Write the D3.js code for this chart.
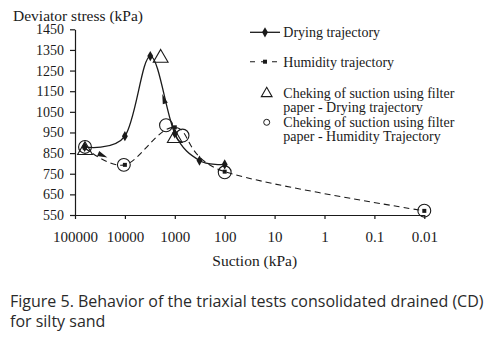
<!DOCTYPE html>
<html><head><meta charset="utf-8">
<script src="https://cdn.jsdelivr.net/npm/d3@7"></script>
<style>body{margin:0;background:#fff}svg{display:block}</style>
</head><body><svg id="c" width="504" height="340"></svg>
<script>
const xTickValues = [100000, 10000, 1000, 100, 10, 1, 0.1, 0.01];
const xTickLabels = ["100000", "10000", "1000", "100", "10", "1", "0.1", "0.01"];
const yTickValues = [550, 650, 750, 850, 950, 1050, 1150, 1250, 1350, 1450];

const dryingSuction = [64000, 10000, 3100, 1000, 320, 100];
const dryingStress  = [880, 932, 1320, 945, 814, 795];

const humiditySuction = [64000, 10000, 1000, 100, 0.01];
const humidityStress  = [876, 793, 975, 760, 570];

const checkDryingSuction = [63000, 1920, 1000];
const checkDryingStress  = [864, 1311, 922];

const checkHumiditySuction = [63000, 10500, 1500, 700, 100, 0.01];
const checkHumidityStress  = [880, 793, 985, 935, 757, 571];

const legendLabels = [
  ["Drying trajectory"],
  ["Humidity trajectory"],
  ["Cheking of suction using filter", "paper - Drying trajectory"],
  ["Cheking of suction using filter", "paper - Humidity Trajectory"]
];
const captionLines = [
  "Figure 5. Behavior of the triaxial tests consolidated drained (CD)",
  "for silty sand"
];

const svg = d3.select("#c");
const ink = "#1a1a1a";
const serif = "'Liberation Serif','Times New Roman',serif";

const x = d3.scaleLog().domain([100000, 0.01]).range([75, 424.3]);
const y = d3.scaleLinear().domain([550, 1450]).range([215, 29.3]);

// axes
const yAxis = d3.axisLeft(y).tickValues(yTickValues).tickSize(5).tickPadding(6)
  .tickFormat(d3.format("d")).tickSizeOuter(0);
const gy = svg.append("g").attr("transform", "translate(75,0)").call(yAxis);
gy.attr("font-family", serif);
gy.selectAll("text").attr("font-family", serif).attr("font-size", 14).attr("fill", ink);

const xAxis = d3.axisBottom(x).tickValues(xTickValues).tickSize(4).tickPadding(12)
  .tickFormat((d, i) => xTickLabels[i]).tickSizeOuter(0);
const gx = svg.append("g").attr("transform", "translate(0,215)").call(xAxis);
gx.attr("font-family", serif);
gx.selectAll("text").attr("font-family", serif).attr("font-size", 15).attr("fill", ink);
[gx, gy].forEach(g => { g.selectAll("line,path").attr("stroke", ink).attr("stroke-width", 1.2); });

svg.append("text").attr("x", 13).attr("y", 20.5).attr("font-family", serif).attr("font-size", 15.5)
  .attr("fill", ink).text("Deviator stress (kPa)");
svg.append("text").attr("x", 254.7).attr("y", 266).attr("text-anchor", "middle").attr("font-family", serif)
  .attr("font-size", 15.5).attr("fill", ink).text("Suction (kPa)");

// lines
const line = d3.line().x(d => x(d[0])).y(d => y(d[1])).curve(d3.curveCardinal.tension(0));
const dry = dryingSuction.map((s, i) => [s, dryingStress[i]]);
const hum = humiditySuction.map((s, i) => [s, humidityStress[i]]);

svg.append("path").datum(hum).attr("d", line).attr("fill", "none").attr("stroke", ink)
  .attr("stroke-width", 1.1).attr("stroke-dasharray", "6,4");
svg.append("path").datum(dry).attr("d", line).attr("fill", "none").attr("stroke", ink)
  .attr("stroke-width", 1.3);

const diamond = d3.symbol().type(d3.symbolDiamond).size(30);
const square = d3.symbol().type(d3.symbolSquare).size(16);
const tri = d3.symbol().type(d3.symbolTriangle);
const circ = d3.symbol().type(d3.symbolCircle);

svg.append("g").selectAll("path").data(dry).join("path")
  .attr("transform", d => `translate(${x(d[0])},${y(d[1])})`).attr("d", diamond).attr("fill", ink);
svg.append("g").selectAll("path").data(hum).join("path")
  .attr("transform", d => `translate(${x(d[0])},${y(d[1])})`).attr("d", square).attr("fill", ink);

// direction arrows (placed on the curves between data points)
function arrow(p0, p1, t) {
  const a = [x(p0[0]), y(p0[1])], b = [x(p1[0]), y(p1[1])];
  const cx = a[0] + (b[0] - a[0]) * t, cy = a[1] + (b[1] - a[1]) * t;
  const ang = Math.atan2(b[1] - a[1], b[0] - a[0]) * 180 / Math.PI;
  svg.append("path").attr("d", "M5,0 L-5,-2.6 L-5,2.6 Z").attr("fill", ink)
    .attr("transform", `translate(${cx},${cy}) rotate(${ang})`);
}
arrow(dry[3], dry[2], 0.45);
arrow(hum[0], hum[1], 0.45);

const cd = checkDryingSuction.map((s, i) => [s, checkDryingStress[i]]);
const ch = checkHumiditySuction.map((s, i) => [s, checkHumidityStress[i]]);
svg.append("g").selectAll("path").data(cd).join("path")
  .attr("transform", d => `translate(${x(d[0])},${y(d[1])})`).attr("d", tri.size(95))
  .attr("fill", "none").attr("stroke", ink).attr("stroke-width", 1.1);
svg.append("g").selectAll("path").data(ch).join("path")
  .attr("transform", d => `translate(${x(d[0])},${y(d[1])})`).attr("d", circ.size(130))
  .attr("fill", "none").attr("stroke", ink).attr("stroke-width", 1.1);

// legend
const lg = svg.append("g").attr("font-family", serif).attr("font-size", 14).attr("fill", ink);
lg.append("line").attr("x1", 250).attr("x2", 280).attr("y1", 32.3).attr("y2", 32.3).attr("stroke", ink).attr("stroke-width", 1.3);
lg.append("path").attr("transform", "translate(265,32.3)").attr("d", diamond).attr("fill", ink);
lg.append("line").attr("x1", 250).attr("x2", 280).attr("y1", 61.7).attr("y2", 61.7).attr("stroke", ink)
  .attr("stroke-width", 1.1).attr("stroke-dasharray", "5,6").attr("stroke-dashoffset", 0);
lg.append("path").attr("transform", "translate(265,61.7)").attr("d", square).attr("fill", ink);
lg.append("path").attr("transform", "translate(266.7,93.5)").attr("d", d3.symbol().type(d3.symbolTriangle).size(50))
  .attr("fill", "none").attr("stroke", ink).attr("stroke-width", 1.1);
lg.append("circle").attr("cx", 266.7).attr("cy", 122.3).attr("r", 3).attr("fill", "none").attr("stroke", ink).attr("stroke-width", 1);
const lgBase = [[37], [66.5], [98, 112], [127, 141]];
legendLabels.forEach((lines, i) => lines.forEach((t, j) =>
  lg.append("text").attr("x", 283.3).attr("y", lgBase[i][j]).text(t)));

// caption
captionLines.forEach((t, i) =>
  svg.append("text").attr("x", 10).attr("y", 307 + i * 20).attr("font-family", "'Open Sans',sans-serif")
    .attr("font-size", 16).attr("fill", "#2a2a2a").text(t));
</script></body></html>
